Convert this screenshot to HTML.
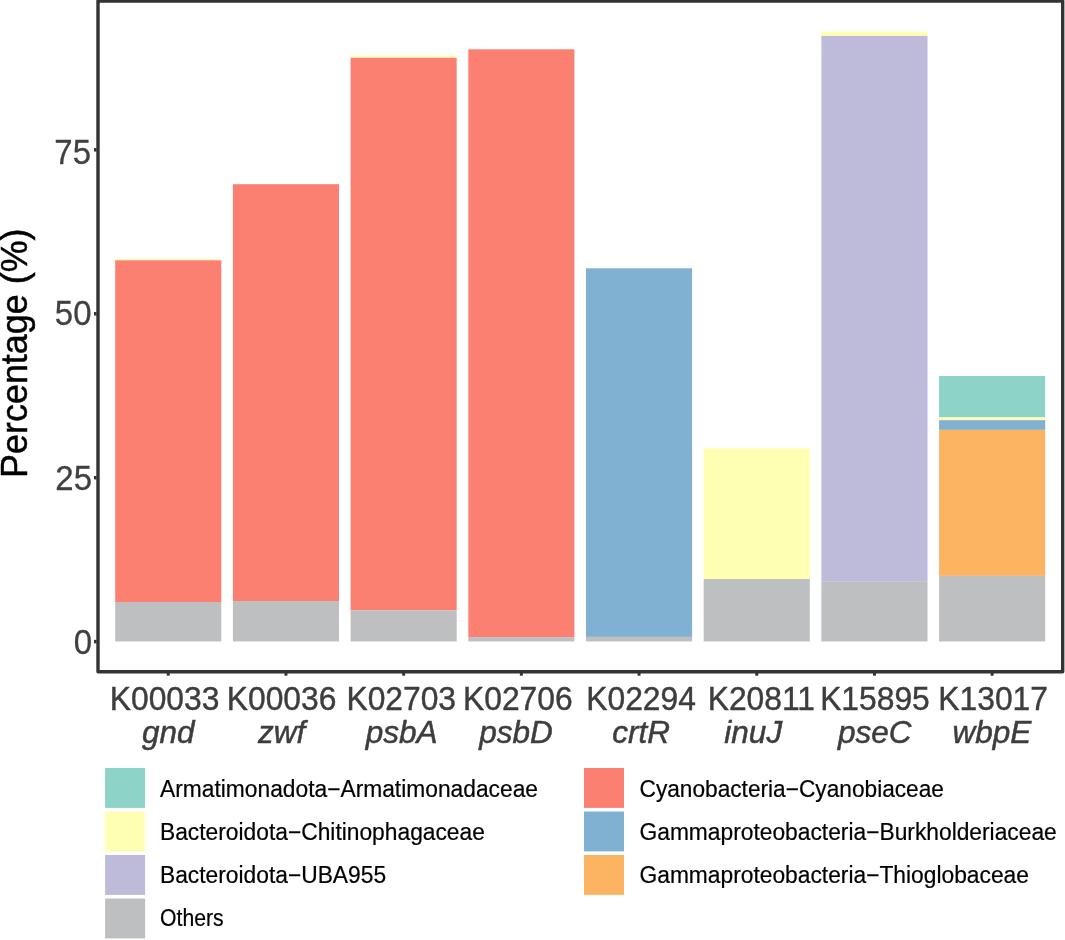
<!DOCTYPE html>
<html lang="en"><head><meta charset="utf-8"><title>Percentage chart</title>
<style>
html,body{margin:0;padding:0;background:#fff;}
body{width:1065px;height:940px;overflow:hidden;}
svg{display:block;font-family:"Liberation Sans",Arial,Helvetica,sans-serif;}
.ax{font-size:31.8px;fill:#3d3d3d;stroke:#3d3d3d;stroke-width:0.4px;}
.ay{font-size:33.0px;fill:#404040;stroke:#404040;stroke-width:0.25px;}
.it{font-style:italic;font-size:31.5px;stroke-width:0.5px;}
.lg{font-size:22.8px;fill:#000;stroke:#000;stroke-width:0.2px;}
.yt{font-size:35.9px;fill:#000;stroke:#000;stroke-width:0.45px;}
</style></head><body>
<svg width="1065" height="940" viewBox="0 0 1065 940">
<rect x="0" y="0" width="1065" height="940" fill="#fff"/>

<g shape-rendering="auto">
<rect x="115.20" y="258.80" width="106.10" height="1.50" fill="#FFFFB3"/>
<rect x="115.20" y="260.30" width="106.10" height="341.70" fill="#FB8072"/>
<rect x="115.20" y="602.00" width="106.10" height="39.45" fill="#BEBFC0"/>
<rect x="232.90" y="184.20" width="106.10" height="416.80" fill="#FB8072"/>
<rect x="232.90" y="601.00" width="106.10" height="40.45" fill="#BEBFC0"/>
<rect x="350.60" y="55.40" width="106.10" height="2.40" fill="#FFFFB3"/>
<rect x="350.60" y="57.80" width="106.10" height="552.50" fill="#FB8072"/>
<rect x="350.60" y="610.30" width="106.10" height="31.15" fill="#BEBFC0"/>
<rect x="468.30" y="49.30" width="106.10" height="587.80" fill="#FB8072"/>
<rect x="468.30" y="637.10" width="106.10" height="4.35" fill="#BEBFC0"/>
<rect x="586.00" y="268.30" width="106.10" height="368.60" fill="#80B1D3"/>
<rect x="586.00" y="636.90" width="106.10" height="4.55" fill="#BEBFC0"/>
<rect x="703.70" y="448.30" width="106.10" height="130.70" fill="#FFFFB3"/>
<rect x="703.70" y="579.00" width="106.10" height="62.45" fill="#BEBFC0"/>
<rect x="821.40" y="31.50" width="106.10" height="4.40" fill="#FFFFB3"/>
<rect x="821.40" y="35.90" width="106.10" height="545.30" fill="#BEBADA"/>
<rect x="821.40" y="581.20" width="106.10" height="60.25" fill="#BEBFC0"/>
<rect x="939.10" y="376.00" width="106.10" height="41.40" fill="#8DD3C7"/>
<rect x="939.10" y="417.40" width="106.10" height="2.60" fill="#FFFFB3"/>
<rect x="939.10" y="420.00" width="106.10" height="0.60" fill="#FB8072"/>
<rect x="939.10" y="420.40" width="106.10" height="9.50" fill="#80B1D3"/>
<rect x="939.10" y="429.90" width="106.10" height="146.00" fill="#FDB462"/>
<rect x="939.10" y="575.90" width="106.10" height="65.55" fill="#BEBFC0"/>
</g>
<rect x="98.0" y="1.0" width="964.7" height="670.7" fill="none" stroke="#333" stroke-width="3.4" stroke-linejoin="round"/>
<line x1="94.0" x2="96.6" y1="149.80" y2="149.80" stroke="#333" stroke-width="3.5"/>
<text class="ay" transform="translate(91.00,164.30) scale(1,1.055)" text-anchor="end">75</text>
<line x1="94.0" x2="96.6" y1="313.80" y2="313.80" stroke="#333" stroke-width="3.5"/>
<text class="ay" transform="translate(91.50,324.90) scale(1,1.055)" text-anchor="end">50</text>
<line x1="94.0" x2="96.6" y1="477.70" y2="477.70" stroke="#333" stroke-width="3.5"/>
<text class="ay" transform="translate(92.00,489.90) scale(1,1.055)" text-anchor="end">25</text>
<line x1="94.0" x2="96.6" y1="641.60" y2="641.60" stroke="#333" stroke-width="3.5"/>
<text class="ay" transform="translate(92.00,653.80) scale(1,1.055)" text-anchor="end">0</text>
<line x1="168.25" x2="168.25" y1="673" y2="675.7" stroke="#333" stroke-width="3"/>
<text class="ax" transform="translate(164.55,709.8) scale(1,1.04)" text-anchor="middle">K00033</text>
<text class="ax it" x="168.25" y="743.0" text-anchor="middle">gnd</text>
<line x1="285.95" x2="285.95" y1="673" y2="675.7" stroke="#333" stroke-width="3"/>
<text class="ax" transform="translate(281.55,709.8) scale(1,1.04)" text-anchor="middle">K00036</text>
<text class="ax it" x="281.65" y="743.0" text-anchor="middle">zwf</text>
<line x1="403.65" x2="403.65" y1="673" y2="675.7" stroke="#333" stroke-width="3"/>
<text class="ax" transform="translate(401.25,709.8) scale(1,1.04)" text-anchor="middle">K02703</text>
<text class="ax it" x="401.65" y="743.0" text-anchor="middle">psbA</text>
<line x1="521.35" x2="521.35" y1="673" y2="675.7" stroke="#333" stroke-width="3"/>
<text class="ax" transform="translate(517.85,709.8) scale(1,1.04)" text-anchor="middle">K02706</text>
<text class="ax it" x="516.05" y="743.0" text-anchor="middle">psbD</text>
<line x1="639.05" x2="639.05" y1="673" y2="675.7" stroke="#333" stroke-width="3"/>
<text class="ax" transform="translate(641.05,709.8) scale(1,1.04)" text-anchor="middle">K02294</text>
<text class="ax it" x="641.15" y="743.0" text-anchor="middle">crtR</text>
<line x1="756.75" x2="756.75" y1="673" y2="675.7" stroke="#333" stroke-width="3"/>
<text class="ax" transform="translate(761.35,709.8) scale(1,1.04)" text-anchor="middle">K20811</text>
<text class="ax it" x="753.25" y="743.0" text-anchor="middle">inuJ</text>
<line x1="874.45" x2="874.45" y1="673" y2="675.7" stroke="#333" stroke-width="3"/>
<text class="ax" transform="translate(874.95,709.8) scale(1,1.04)" text-anchor="middle">K15895</text>
<text class="ax it" x="874.75" y="743.0" text-anchor="middle">pseC</text>
<line x1="992.15" x2="992.15" y1="673" y2="675.7" stroke="#333" stroke-width="3"/>
<text class="ax" transform="translate(993.15,709.8) scale(1,1.04)" text-anchor="middle">K13017</text>
<text class="ax it" x="991.85" y="743.0" text-anchor="middle">wbpE</text>
<text class="yt" transform="translate(27.0,353.2) rotate(-90) scale(1,1.03)" text-anchor="middle">Percentage (%)</text>
<rect x="105.10" y="768.00" width="40.0" height="39.9" fill="#8DD3C7"/>
<text class="lg" transform="translate(160.00,796.50) scale(1,1.03)">Armatimonadota−Armatimonadaceae</text>
<rect x="105.10" y="811.50" width="40.0" height="39.9" fill="#FFFFB3"/>
<text class="lg" transform="translate(160.00,839.60) scale(1,1.03)">Bacteroidota−Chitinophagaceae</text>
<rect x="105.10" y="855.00" width="40.0" height="39.9" fill="#BEBADA"/>
<text class="lg" transform="translate(160.00,882.90) scale(1,1.03)">Bacteroidota−UBA955</text>
<rect x="105.10" y="898.50" width="40.0" height="39.9" fill="#BEBFC0"/>
<text class="lg" transform="translate(160.10,926.40) scale(0.93,1.03)">Others</text>
<rect x="584.00" y="768.00" width="40.0" height="39.9" fill="#FB8072"/>
<text class="lg" transform="translate(639.51,796.50) scale(0.995,1.03)">Cyanobacteria−Cyanobiaceae</text>
<rect x="584.00" y="811.50" width="40.0" height="39.9" fill="#80B1D3"/>
<text class="lg" transform="translate(639.50,839.60) scale(1,1.03)">Gammaproteobacteria−Burkholderiaceae</text>
<rect x="584.00" y="855.00" width="40.0" height="39.9" fill="#FDB462"/>
<text class="lg" transform="translate(639.50,882.90) scale(1,1.03)">Gammaproteobacteria−Thioglobaceae</text>
</svg></body></html>
